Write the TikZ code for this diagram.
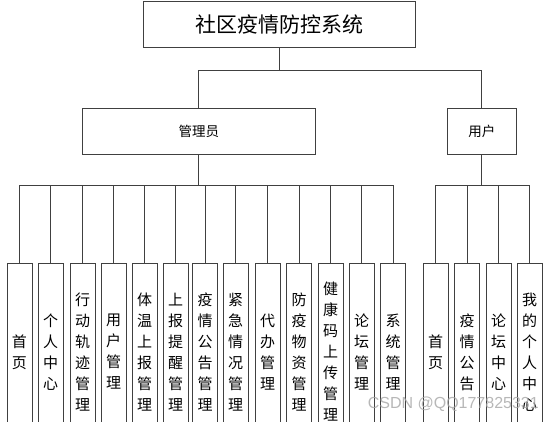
\documentclass[tikz,border=0pt]{standalone}
\usepackage{fontspec}
\setmainfont{Noto Sans CJK SC}
\newfontfamily\wmfont{Liberation Sans}
\definecolor{ln}{HTML}{404040}
\begin{document}
\begin{tikzpicture}[x=1pt,y=-1pt,
  box/.style={draw=ln,line width=1pt,fill=white,inner sep=0pt,outer sep=0pt,rectangle},
  leaf/.style={box,minimum width=25pt,minimum height=178pt,align=center,
    font=\fontsize{15}{21}\selectfont},
  conn/.style={draw=ln,line width=1pt}]
\useasboundingbox (0,0) rectangle (553,421);
\clip (0,0) rectangle (553,421);
\fill[white] (0,0) rectangle (553,421);
\node[box,minimum width=272.5pt,minimum height=46pt,font=\fontsize{21}{24}\selectfont] (top) at (279.25,24.5) {社区疫情防控系统};
\node[box,minimum width=233.5pt,minimum height=46.6pt,font=\fontsize{13.5}{16}\selectfont] (admin) at (198.75,131.3) {管理员};
\node[box,minimum width=68.5pt,minimum height=46.6pt,font=\fontsize{13.5}{16}\selectfont] (user) at (481.75,131.3) {用户};
\coordinate (b0) at (279.25,70.5);
\coordinate (ba) at (198.75,185);
\coordinate (bu) at (481.75,185);
\draw[conn] (top.south) -- (b0);
\draw[conn] (admin.north) |- (b0) -| (user.north);
\draw[conn] (admin.south) -- (ba);
\draw[conn] (user.south) -- (bu);
\node[leaf] (l1) at (19.5,352) {首\\页};
\node[leaf] (l2) at (50.5,352) {个\\人\\中\\心};
\node[leaf] (l3) at (82.5,352) {行\\动\\轨\\迹\\管\\理};
\node[leaf] (l4) at (113.5,352) {用\\户\\管\\理};
\node[leaf] (l5) at (144.5,352) {体\\温\\上\\报\\管\\理};
\node[leaf] (l6) at (175.5,352) {上\\报\\提\\醒\\管\\理};
\node[leaf] (l7) at (205,352) {疫\\情\\公\\告\\管\\理};
\node[leaf] (l8) at (235.5,352) {紧\\急\\情\\况\\管\\理};
\node[leaf] (l9) at (267.5,352) {代\\办\\管\\理};
\node[leaf] (l10) at (299,352) {防\\疫\\物\\资\\管\\理};
\node[leaf] (l11) at (330.5,352) {健\\康\\码\\上\\传\\管\\理};
\node[leaf] (l12) at (361.5,352) {论\\坛\\管\\理};
\node[leaf] (l13) at (393,352) {系\\统\\管\\理};
\node[leaf] (r1) at (435.5,352) {首\\页};
\node[leaf] (r2) at (467,352) {疫\\情\\公\\告};
\node[leaf] (r3) at (498.5,352) {论\\坛\\中\\心};
\node[leaf] (r4) at (529.5,352) {我\\的\\个\\人\\中\\心};
\foreach \n in {l1,l2,l3,l4,l5,l6,l7,l8,l9,l10,l11,l12,l13}
  \draw[conn] (ba) -| (\n.north);
\foreach \n in {r1,r2,r3,r4}
  \draw[conn] (bu) -| (\n.north);
\node[font=\wmfont\fontsize{16}{18}\selectfont,text=gray!70,opacity=0.8,anchor=east,inner sep=0pt] (wm) at (539,404) {CSDN @QQ177825331};
\end{tikzpicture}
\end{document}
